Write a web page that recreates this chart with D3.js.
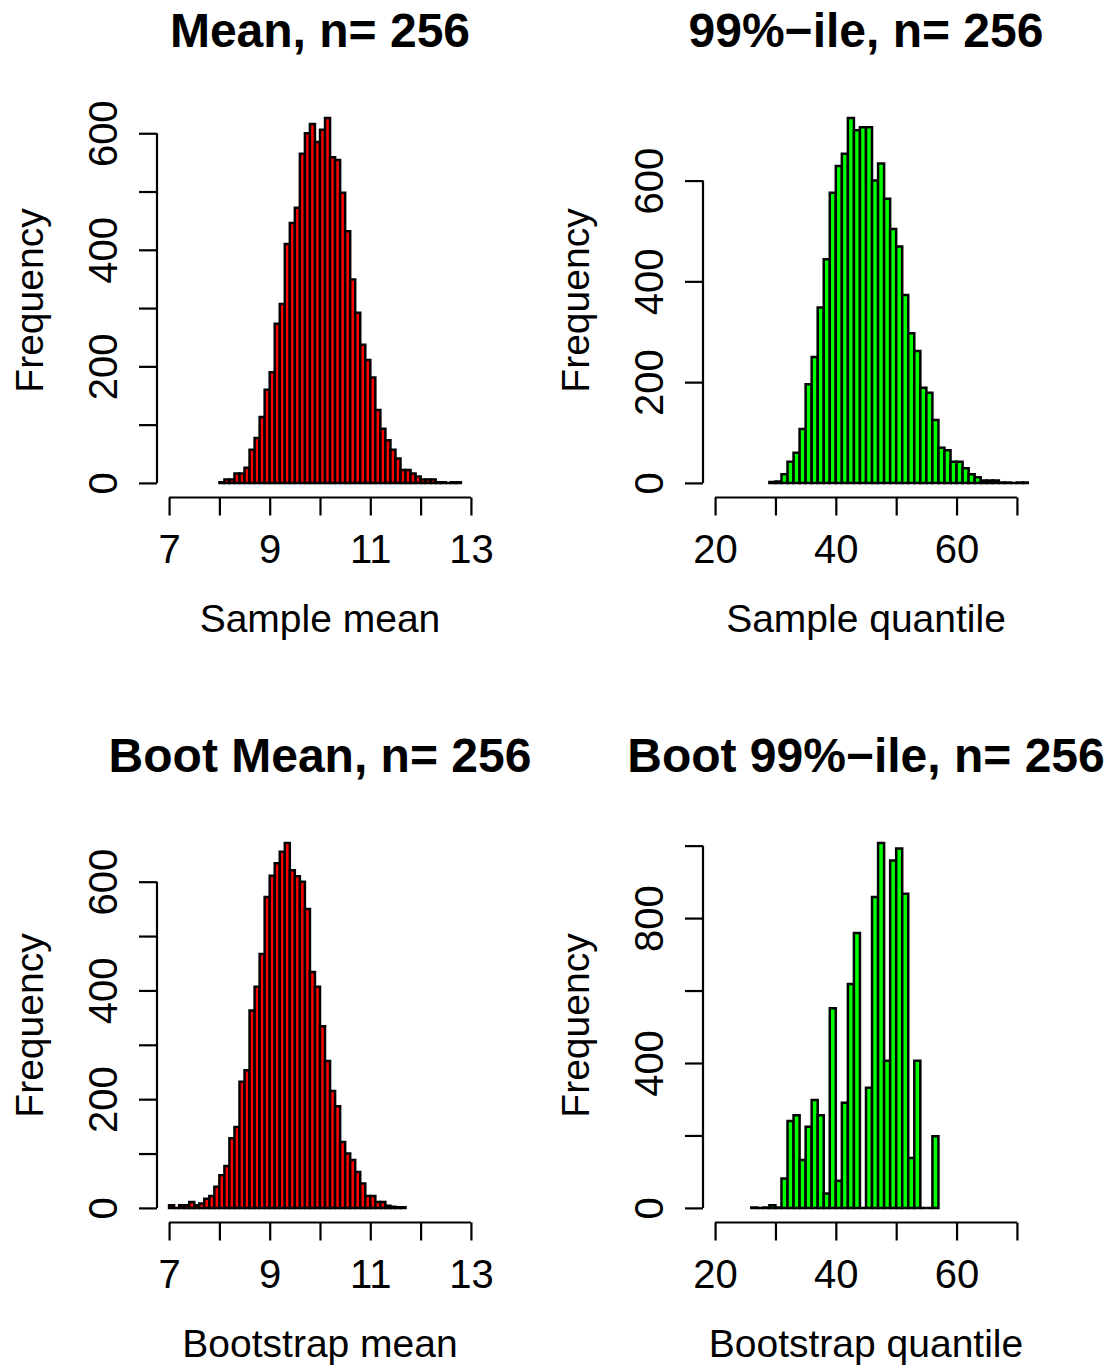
<!DOCTYPE html>
<html>
<head>
<meta charset="utf-8">
<script src="https://cdn.jsdelivr.net/npm/d3@7"></script>
<style>
  body { margin: 0; background: white; }
  text { font-family: "Liberation Sans", Arial, sans-serif; fill: black; }
</style>
</head>
<body>
<div id="chart"></div>
<script>
// histogram counts, one value per bin

// Mean, n = 256 : bins of 0.1 starting at 8.0
const meanStart = 8.0;
const meanCounts = [1, 6, 6, 16, 16, 26, 57, 77, 113, 160, 190, 273, 307, 410, 446, 472,
  565, 600, 616, 585, 606, 626, 559, 554, 498, 432, 349, 292, 237, 211, 181, 125,
  93, 73, 57, 42, 22, 22, 16, 11, 6, 6, 6, 1, 1, 0, 1, 1];

// 99%-ile, n = 256 : bins of 1 starting at 29
const quantStart = 29;
const quantCounts = [2, 3, 17, 42, 60, 107, 196, 250, 348, 444, 576, 629, 653, 724, 700, 706,
  706, 600, 634, 564, 504, 469, 373, 297, 262, 189, 179, 125, 70, 65, 42, 42,
  29, 17, 11, 5, 5, 5, 1, 1, 0, 1, 1];

// Boot Mean : bins of 0.1 starting at 7.0
const bootMeanStart = 7.0;
const bootMeanCounts = [5, 0, 5, 5, 11, 5, 8, 17, 22, 39, 60, 77, 128, 149, 232, 253,
  363, 407, 467, 572, 611, 634, 655, 671, 621, 610, 600, 550, 434, 407, 334, 270,
  215, 187, 121, 100, 88, 66, 45, 22, 22, 11, 11, 4, 2, 1, 1];

// Boot 99%-ile : bins of 1 starting at 26
const bootQuantStart = 26;
const bootQuantCounts = [1, 0, 1, 7, 1, 81, 240, 256, 132, 224, 298, 256, 40, 551, 75, 290,
  618, 759, 0, 332, 858, 1007, 406, 959, 992, 867, 138, 406, 0, 0, 198];

// axes
const meanTicks = [7, 8, 9, 10, 11, 12, 13];
const meanTickLabels = ['7', '', '9', '', '11', '', '13'];
const quantTicks = [20, 30, 40, 50, 60, 70];
const quantTickLabels = ['20', '', '40', '', '60', ''];
const countTicks600 = [0, 100, 200, 300, 400, 500, 600];
const countLabels600 = ['0', '', '200', '', '400', '', '600'];
const countTicks600b = [0, 200, 400, 600];
const countLabels600b = ['0', '200', '400', '600'];
const countTicks1000 = [0, 200, 400, 600, 800, 1000];
const countLabels1000 = ['0', '', '400', '', '800', ''];

const titles = ['Mean, n= 256', '99%\u2212ile, n= 256', 'Boot Mean, n= 256', 'Boot 99%\u2212ile, n= 256'];
const xTitles = ['Sample mean', 'Sample quantile', 'Bootstrap mean', 'Bootstrap quantile'];

const width = 1111;
const height = 1366;
const plotW = 326;
const plotH = 394;

const red = '#ff0000';
const green = '#00ff00';

const panels = [
  { title: titles[0], xlab: xTitles[0], counts: meanCounts, start: meanStart, binW: 0.1,
    xlim: [7, 13], xticks: meanTicks, xlabels: meanTickLabels,
    yticks: countTicks600, ylabels: countLabels600, fill: red, left: 157, bottom: 497.5 },
  { title: titles[1], xlab: xTitles[1], counts: quantCounts, start: quantStart, binW: 1,
    xlim: [20, 70], xticks: quantTicks, xlabels: quantTickLabels,
    yticks: countTicks600b, ylabels: countLabels600b, fill: green, left: 703, bottom: 497.5 },
  { title: titles[2], xlab: xTitles[2], counts: bootMeanCounts, start: bootMeanStart, binW: 0.1,
    xlim: [7, 13], xticks: meanTicks, xlabels: meanTickLabels,
    yticks: countTicks600, ylabels: countLabels600, fill: red, left: 157, bottom: 1222.5 },
  { title: titles[3], xlab: xTitles[3], counts: bootQuantCounts, start: bootQuantStart, binW: 1,
    xlim: [20, 70], xticks: quantTicks, xlabels: quantTickLabels,
    yticks: countTicks1000, ylabels: countLabels1000, fill: green, left: 703, bottom: 1222.5 }
];

const svg = d3
  .select('#chart')
  .append('svg')
  .attr('width', width)
  .attr('height', height)
  .style('background', 'white');

// R style 4% padding on both ends
function padRange(lim) {
  const d = (lim[1] - lim[0]) * 0.04;
  return [lim[0] - d, lim[1] + d];
}

function drawHist(p, idx) {
  const x = d3.scaleLinear().domain(padRange(p.xlim)).range([p.left, p.left + plotW]);
  const ymax = d3.max(p.counts);
  const y = d3.scaleLinear().domain(padRange([0, ymax])).range([p.bottom, p.bottom - plotH]);

  const bins = p.counts.map((c, i) => ({
    x0: p.start + i * p.binW,
    x1: p.start + (i + 1) * p.binW,
    count: c
  }));

  const g = svg.append('g');

  g.append('clipPath')
    .attr('id', 'clip' + idx)
    .append('rect')
    .attr('x', p.left)
    .attr('y', p.bottom - plotH)
    .attr('width', plotW)
    .attr('height', plotH);

  // bars as paths so empty bins still show as a line
  g.append('g')
    .attr('clip-path', 'url(#clip' + idx + ')')
    .selectAll('path')
    .data(bins)
    .enter()
    .append('path')
    .attr('d', (d) => {
      const a = x(d.x0), b = x(d.x1), top = y(d.count), base = y(0);
      return 'M' + a + ',' + base + 'V' + top + 'H' + b + 'V' + base + 'Z';
    })
    .attr('fill', p.fill)
    .attr('stroke', 'black')
    .attr('stroke-width', 2.5);

  // x axis
  const xAxis = d3.axisBottom(x).tickValues(p.xticks).tickSize(18).tickSizeOuter(0)
    .tickFormat((d, i) => p.xlabels[i]);
  const gx = g.append('g').attr('transform', 'translate(0,' + p.bottom + ')').call(xAxis);
  gx.select('.domain').remove();
  gx.append('line')
    .attr('x1', x(p.xticks[0]))
    .attr('x2', x(p.xticks[p.xticks.length - 1]))
    .attr('stroke', 'black');
  gx.selectAll('line').attr('stroke-width', 2.2).attr('stroke', 'black');
  gx.selectAll('text')
    .attr('y', 65.5)
    .attr('dy', null)
    .style('font-size', '40px')
    .style('font-family', '"Liberation Sans", Arial, sans-serif')
    .attr('fill', 'black');

  // y axis
  const yAxis = d3.axisLeft(y).tickValues(p.yticks).tickSize(18).tickSizeOuter(0)
    .tickFormat((d, i) => p.ylabels[i]);
  const gy = g.append('g').attr('transform', 'translate(' + p.left + ',0)').call(yAxis);
  gy.select('.domain').remove();
  gy.append('line')
    .attr('y1', y(p.yticks[0]))
    .attr('y2', y(p.yticks[p.yticks.length - 1]))
    .attr('stroke', 'black');
  gy.selectAll('line').attr('stroke-width', 2.2).attr('stroke', 'black');
  gy.selectAll('text')
    .attr('x', null)
    .attr('dy', null)
    .attr('transform', 'translate(-40,0) rotate(-90)')
    .attr('text-anchor', 'middle')
    .style('font-size', '40px')
    .style('font-family', '"Liberation Sans", Arial, sans-serif')
    .attr('fill', 'black');

  // titles
  g.append('text')
    .attr('x', p.left + plotW / 2)
    .attr('y', p.bottom - 450.5)
    .attr('text-anchor', 'middle')
    .style('font-size', '48px')
    .style('font-weight', 'bold')
    .text(p.title);

  g.append('text')
    .attr('x', p.left + plotW / 2)
    .attr('y', p.bottom + 134)
    .attr('text-anchor', 'middle')
    .style('font-size', '39px')
    .text(p.xlab);

  g.append('text')
    .attr('transform', 'translate(' + (p.left - 114) + ',' + (p.bottom - plotH / 2) + ') rotate(-90)')
    .attr('text-anchor', 'middle')
    .style('font-size', '39px')
    .text('Frequency');
}

panels.forEach((p, i) => drawHist(p, i));
</script>
</body>
</html>
